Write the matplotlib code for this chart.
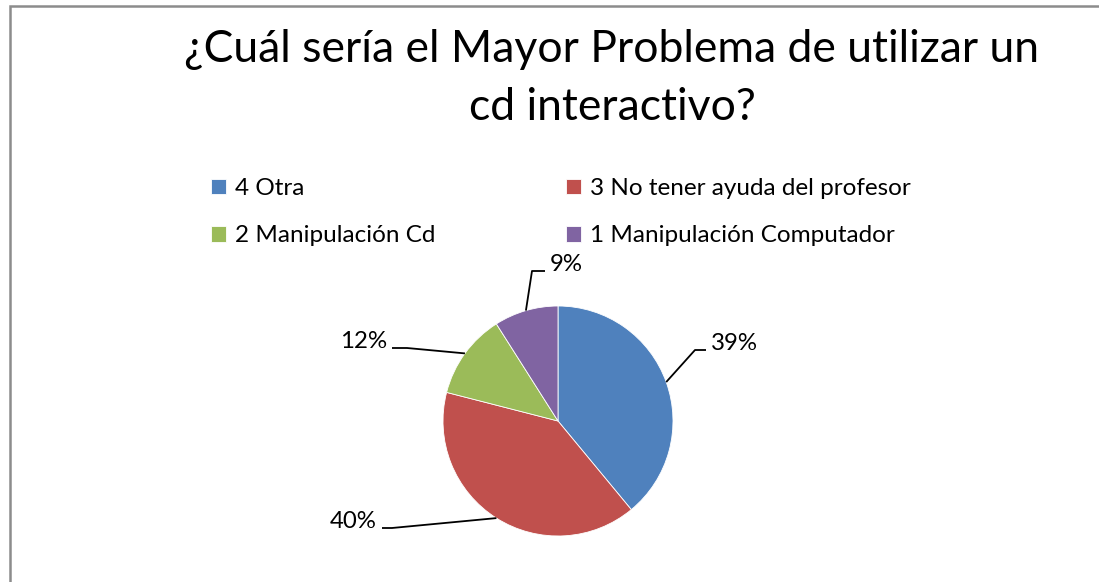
import matplotlib
matplotlib.use('Agg')
import matplotlib.pyplot as plt
from matplotlib.patches import Rectangle
import numpy as np

# data
labels = ['4 Otra', '3 No tener ayuda del profesor',
          '2 Manipulación Cd', '1 Manipulación Computador']
values = [39, 40, 12, 9]
pct_text = ['39%', '40%', '12%', '9%']
colors = ['#4F81BD', '#C0504D', '#9BBB59', '#8064A2']
title_lines = ['¿Cuál sería el Mayor Problema de utilizar un', 'cd interactivo?']

plt.rcParams['font.family'] = ['Lato', 'DejaVu Sans']

W, H = 1099, 582
fig = plt.figure(figsize=(W / 100, H / 100), dpi=100)

# pie centre / radius in pixels (from top-left)
cx, cy, R = 558, 421, 115
ax = fig.add_axes([0, 0, 1, 1])

wedges, _ = ax.pie(values, colors=colors, startangle=90, counterclock=False,
                   radius=1, wedgeprops=dict(edgecolor='white', linewidth=0.6))
ax.set_xlim(-cx / R, (W - cx) / R)
ax.set_ylim(-(H - cy) / R, cy / R)
ax.set_aspect('equal')
ax.axis('off')

# leader layout: elbow point and end point (pixels), text side
leaders = [
    ((695, 350), (706, 350), 'left'),
    ((392, 528), (382, 528), 'right'),
    ((407, 348), (392, 348), 'right'),
    ((532, 271), (545, 271), 'left'),
]

def px(x, y):
    return (x - cx) / R, (cy - y) / R

for w, txt, (elb, end, side) in zip(wedges, pct_text, leaders):
    mid = np.deg2rad((w.theta1 + w.theta2) / 2)
    sx, sy = np.cos(mid), np.sin(mid)
    ex, ey = px(*elb)
    nx, ny = px(*end)
    ax.plot([sx, ex, nx], [sy, ey, ny], color='black', lw=1.3, solid_capstyle='butt')
    off = 5 / R if side == 'left' else -5 / R
    ax.text(nx + off, ny, txt, ha=side, va='baseline', fontsize=17.3, color='black')

# title
fig.text(612 / W, 1 - 62 / H, title_lines[0], ha='center', va='baseline', fontsize=32)
fig.text(612 / W, 1 - 120 / H, title_lines[1], ha='center', va='baseline', fontsize=32)

# legend, row-major order
order = [0, 2, 1, 3]
leg = fig.legend([wedges[i] for i in order], [labels[i] for i in order], ncol=2,
                 loc='upper left', bbox_to_anchor=(211 / W, 1 - 178 / H),
                 frameon=False, fontsize=17.5, handlelength=0.62, handleheight=0.62,
                 handletextpad=0.35, columnspacing=5.4, labelspacing=1.08,
                 borderaxespad=0, borderpad=0)

# chart border (only left and top edges visible)
fig.add_artist(Rectangle((10 / W, -0.1), 1.2, 1 - 6 / H + 0.1,
                         transform=fig.transFigure, fill=False,
                         edgecolor='#8c8c8c', lw=1.8))

fig.savefig('out.png', dpi=100)
